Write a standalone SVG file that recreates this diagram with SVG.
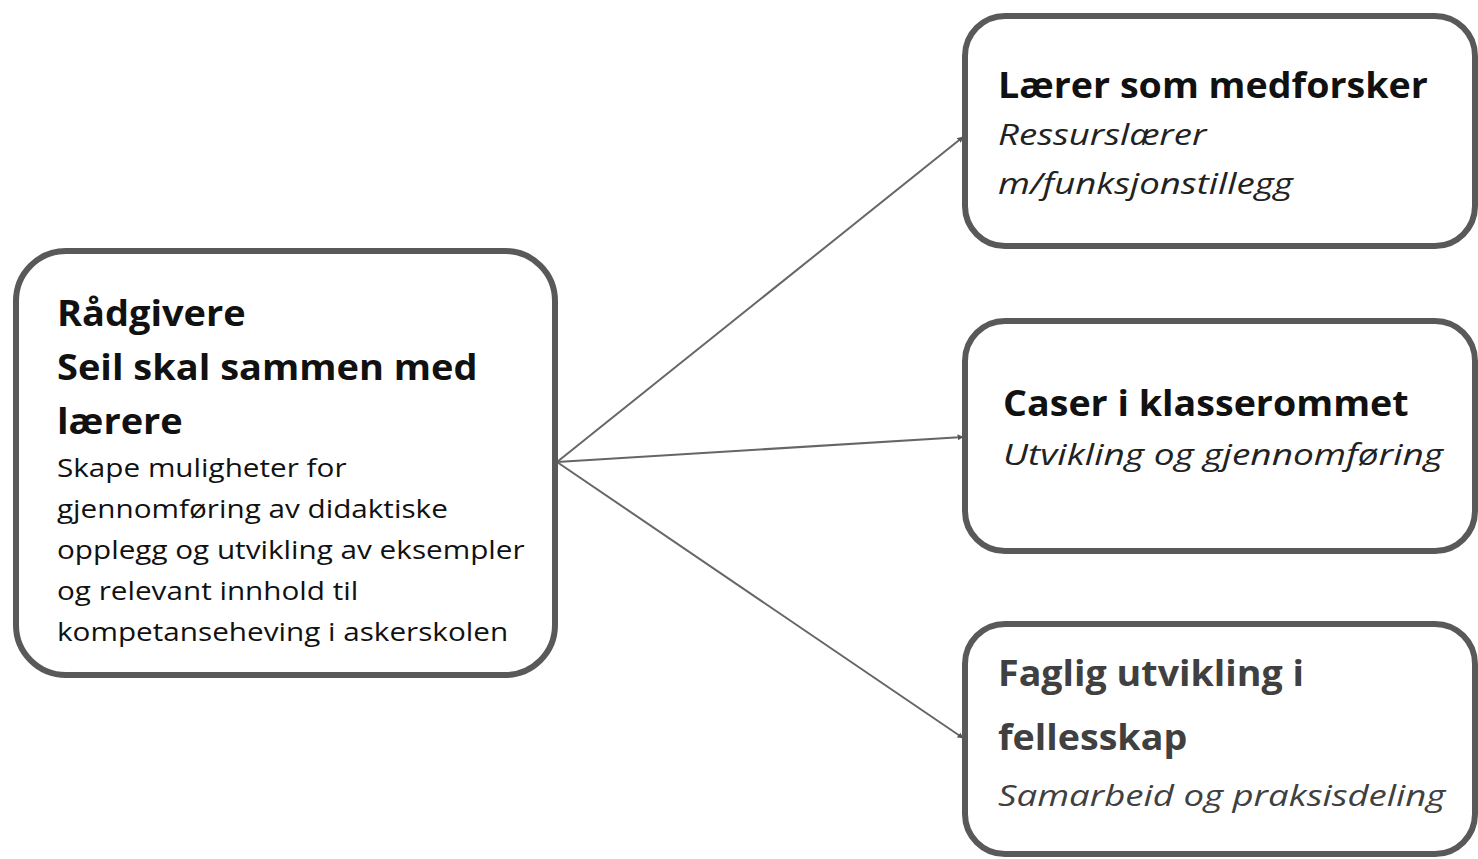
<svg xmlns="http://www.w3.org/2000/svg" width="1478" height="859" viewBox="0 0 1478 859">
<defs>
<style>
.box{fill:#fff;stroke:#595959;stroke-width:6}
.t{font-family:"Open Sans","Noto Sans",sans-serif;fill:#111}
.b{font-weight:bold;font-size:35px}
.n{font-size:26px}
.i{font-style:italic;font-size:30px;fill:#222}
.g{fill:#404040}
.con{stroke:#666;stroke-width:2;fill:none;marker-end:url(#ah)}
</style>
<marker id="ah" viewBox="0 0 10 10" refX="9" refY="5" markerWidth="6" markerHeight="6" orient="auto" markerUnits="userSpaceOnUse">
<path d="M0,0 L10,5 L0,10 z" fill="#555"/>
</marker>
</defs>
<rect width="1478" height="859" fill="#fff"/>
<g id="connectors">
<line class="con" x1="557" y1="462" x2="963" y2="137"/>
<line class="con" x1="557" y1="462" x2="963" y2="437"/>
<line class="con" x1="557" y1="462" x2="963" y2="738"/>
</g>
<g id="node-left">
<rect class="box" x="16" y="251" width="539" height="424" rx="50"/>
<g transform="translate(57 0) scale(1.085 1)">
<text class="t b" x="0" y="326">Rådgivere</text>
<text class="t b" x="0" y="380">Seil skal sammen med</text>
<text class="t b" x="0" y="434">lærere</text>
</g>
<g transform="translate(57 0) scale(1.142 1)">
<text class="t n" x="0" y="477">Skape muligheter for</text>
<text class="t n" x="0" y="518">gjennomføring av didaktiske</text>
<text class="t n" x="0" y="559">opplegg og utvikling av eksempler</text>
<text class="t n" x="0" y="600">og relevant innhold til</text>
<text class="t n" x="0" y="641">kompetanseheving i askerskolen</text>
</g>
</g>
<g id="node-top">
<rect class="box" x="965" y="16" width="510" height="230" rx="40"/>
<g transform="translate(998 0) scale(1.075 1)">
<text class="t b" x="0" y="98">Lærer som medforsker</text>
</g>
<g transform="translate(998 0) scale(1.22 1)">
<text class="t i" x="0" y="145">Ressurslærer</text>
<text class="t i" x="0" y="194">m/funksjonstillegg</text>
</g>
</g>
<g id="node-middle">
<rect class="box" x="965" y="321" width="510" height="230" rx="40"/>
<g transform="translate(1003 0) scale(1.075 1)">
<text class="t b" x="0" y="416">Caser i klasserommet</text>
</g>
<g transform="translate(1003 0) scale(1.235 1)">
<text class="t i" x="0" y="465">Utvikling og gjennomføring</text>
</g>
</g>
<g id="node-bottom">
<rect class="box" x="965" y="624" width="510" height="230" rx="40"/>
<g transform="translate(998 0) scale(1.075 1)">
<text class="t b g" x="0" y="686">Faglig utvikling i</text>
<text class="t b g" x="0" y="750">fellesskap</text>
</g>
<g transform="translate(998 0) scale(1.22 1)">
<text class="t i g" x="0" y="806">Samarbeid og praksisdeling</text>
</g>
</g>
</svg>
